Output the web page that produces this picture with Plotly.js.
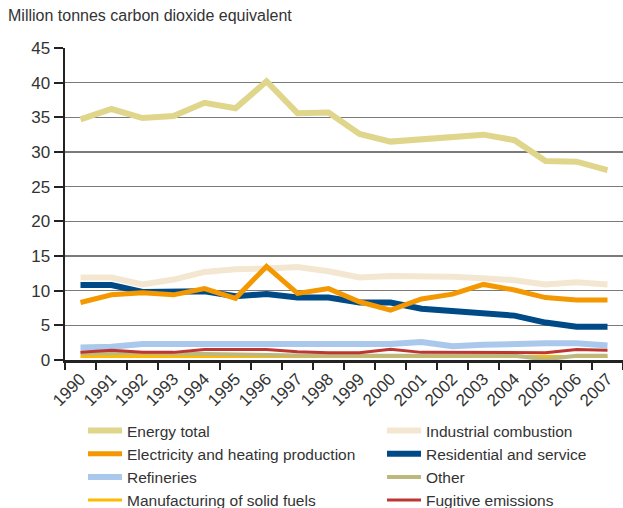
<!DOCTYPE html>
<html>
<head>
<meta charset="utf-8">
<script src="https://cdn.plot.ly/plotly-3.0.1.min.js"></script>
<style>html,body{margin:0;padding:0;background:#fff;}#chart{width:623px;height:508px;}</style>
</head>
<body>
<div id="chart"></div>
<script>
const years = ['1990','1991','1992','1993','1994','1995','1996','1997','1998','1999','2000','2001','2002','2003','2004','2005','2006','2007'];
const energyTotal   = [34.7,36.2,34.9,35.2,37.1,36.3,40.2,35.6,35.7,32.6,31.5,31.8,32.2,32.5,31.7,28.7,28.6,27.4];
const industrial    = [11.9,11.9,10.9,11.6,12.7,13.1,13.2,13.4,12.8,11.9,12.1,12.1,12.0,11.8,11.5,10.9,11.2,10.9];
const electricity   = [8.3,9.4,9.7,9.4,10.3,8.9,13.5,9.6,10.3,8.4,7.2,8.8,9.5,10.9,10.1,9.0,8.65,8.65];
const residential   = [10.8,10.8,9.8,9.8,9.9,9.2,9.5,9.0,9.0,8.3,8.3,7.4,7.0,6.8,6.4,5.4,4.8,4.8];
const refineries    = [1.8,1.9,2.3,2.35,2.35,2.35,2.3,2.3,2.3,2.3,2.3,2.6,2.0,2.2,2.4,2.4,2.4,2.1];
const otherSrc      = [0.95,1.0,1.0,0.95,0.85,0.8,0.7,0.65,0.6,0.6,0.6,0.6,0.6,0.6,0.6,0.1,0.6,0.6];
const solidFuels    = [0.5,0.5,0.5,0.5,0.5,0.5,0.45,0.45,0.45,0.45,0.45,0.45,0.45,0.45,0.45,0.5,0.5,0.5];
const fugitive      = [1.1,1.4,1.1,1.1,1.5,1.5,1.5,1.2,1.05,1.05,1.55,1.1,1.1,1.1,1.05,1.05,1.5,1.4];
const seriesNames = ['Energy total','Industrial combustion','Electricity and heating production','Residential and service','Refineries','Other','Manufacturing of solid fuels','Fugitive emissions'];

function tr(name, y, color, width, rank) {
  return {type:'scatter', mode:'lines', x: years, y: y, name: name, legendrank: rank,
          line:{color: color, width: width}, hoverinfo:'skip'};
}
const data = [
  tr(seriesNames[1], industrial, '#F3E7D2', 6, 2),
  tr(seriesNames[3], residential, '#004A87', 6, 4),
  tr(seriesNames[2], electricity, '#F39800', 5, 3),
  tr(seriesNames[4], refineries, '#A9C8EB', 6, 5),
  tr(seriesNames[6], solidFuels, '#FFB900', 3, 7),
  tr(seriesNames[5], otherSrc, '#BDB97E', 4, 6),
  tr(seriesNames[7], fugitive, '#BE3631', 3, 8),
  tr(seriesNames[0], energyTotal, '#DFD68C', 6, 1)
];

const fontFam = '"Liberation Sans", Arial, sans-serif';
const layout = {
  width: 623, height: 508,
  margin: {l: 0, r: 0, t: 48, b: 148, autoexpand: false},
  paper_bgcolor: '#fff', plot_bgcolor: '#fff',
  font: {family: fontFam, color: '#333', size: 16},
  title: {text: 'Million tonnes carbon dioxide equivalent', x: 8/623, xanchor: 'left',
          xref: 'container', y: 1 - 15/508, yanchor: 'middle', yref: 'container',
          font: {family: fontFam, size: 16, color: '#333'}},
  showlegend: true,
  legend: {orientation: 'h', xref: 'paper', x: 83/623, xanchor: 'left',
           yref: 'container', y: 1 - 414/508, yanchor: 'top',
           itemwidth: 34,
           entrywidth: 250, entrywidthmode: 'pixels', traceorder: 'normal',
           font: {family: fontFam, size: 15.5, color: '#333'}, bgcolor: 'rgba(0,0,0,0)'},
  xaxis: {type: 'category', domain: [65/623, 1], range: [-0.5, 17.5],
          tickson: 'boundaries', ticks: 'outside', ticklen: 7, tickwidth: 2, tickcolor: '#222',
          showline: true, linecolor: '#222', linewidth: 2.5, showgrid: false, zeroline: false,
          tickangle: -45, tickfont: {family: fontFam, size: 17, color: '#333'}, fixedrange: true},
  yaxis: {range: [0, 45], dtick: 5, tick0: 0, ticks: 'outside', ticklen: 9, tickwidth: 2,
          tickcolor: '#222', showline: true, linecolor: '#222', linewidth: 2.5,
          showgrid: true, gridcolor: '#7a7a7a', gridwidth: 1.5, zeroline: false,
          tickfont: {family: fontFam, size: 17, color: '#333'}, fixedrange: true}
};
Plotly.newPlot('chart', data, layout, {displayModeBar: false, staticPlot: true});
</script>
</body>
</html>
